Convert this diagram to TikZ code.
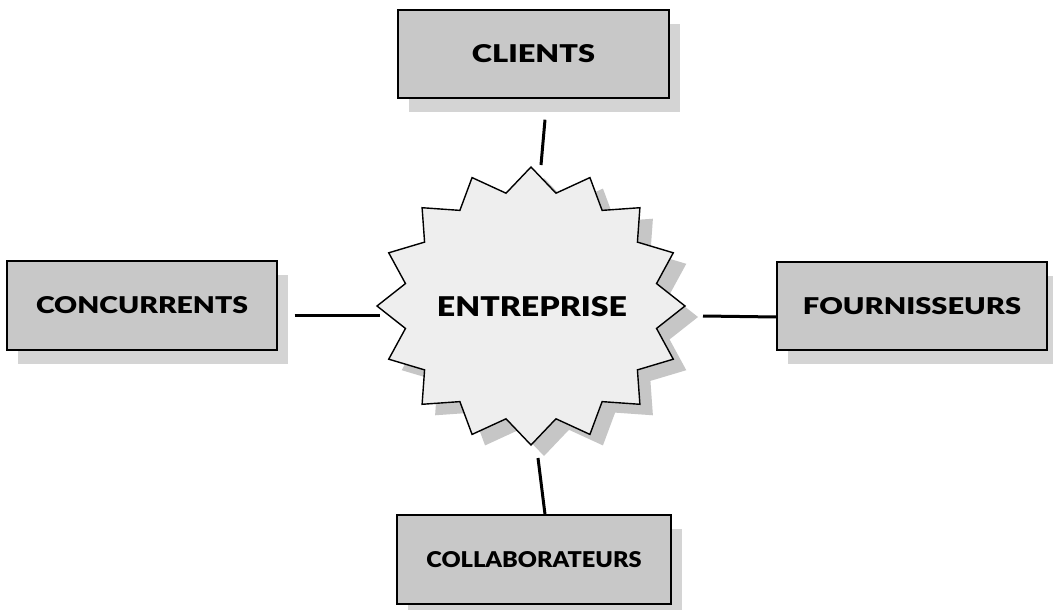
\documentclass[tikz,border=0pt]{standalone}
\usepackage{fontspec}
\setmainfont{Lato}[BoldFont={Lato Black}]
\usetikzlibrary{shadows,calc}
\definecolor{boxfill}{HTML}{C8C8C8}
\definecolor{boxshade}{HTML}{D4D4D4}
\definecolor{starfill}{HTML}{EEEEEE}
\definecolor{starshade}{HTML}{C6C6C6}
\newcommand\fitlbl[3]{\resizebox{#1}{#2}{\bfseries #3}}
\tikzset{
  boxnode/.style={draw=black, line width=1.4pt, fill=boxfill, inner sep=0pt,
    minimum width=271pt, minimum height=88pt,
    drop shadow={shadow xshift=11pt, shadow yshift=-14pt, fill=boxshade, opacity=1}},
  starpath/.style={draw=black, line width=1.4pt, fill=starfill, line join=miter,
    drop shadow={shadow xshift=13pt, shadow yshift=-11pt, fill=starshade, opacity=1}},
  conn/.style={draw=black, line width=3pt},
  lbl/.style={inner sep=0pt}
}
\begin{document}
\begin{tikzpicture}[x=1pt,y=-1pt]
\useasboundingbox (0,0) rectangle (1053,610);
\fill[white] (0,0) rectangle (1053,610);
% central star
\coordinate (c) at (531,306);
\path[starpath, shift={(531,306)}] (0:154 and 139)
  \foreach \i in {0,...,15} { -- ({\i*22.5}:154 and 139) -- ({\i*22.5+11.25}:128 and 115) } -- cycle;
\coordinate (sN) at (531,167);
\coordinate (sS) at (531,445);
\coordinate (sW) at (377,305);
\coordinate (sE) at (685,306);
\node[lbl] (ent) at (532,307) {\fitlbl{190pt}{20pt}{ENTREPRISE}};
% boxes
\node[boxnode] (clients) at (533.5,54) {\fitlbl{123pt}{18pt}{CLIENTS}};
\node[boxnode, minimum width=270pt, minimum height=89pt] (conc) at (142,305.5) {\fitlbl{212pt}{17pt}{CONCURRENTS}};
\node[boxnode, minimum width=270pt] (four) at (912,306) {\fitlbl{218pt}{17pt}{FOURNISSEURS}};
\node[boxnode, minimum width=274pt, minimum height=89pt] (collab) at (534,559.5) {\fitlbl{215pt}{16pt}{COLLABORATEURS}};
% connectors
\draw[conn] ([xshift=11.5pt,yshift=-21pt]clients.south) -- ([xshift=10pt,yshift=2pt]sN);
\draw[conn] ([xshift=7pt,yshift=-13pt]sS) -- ([xshift=11pt]collab.north);
\draw[conn] ([xshift=17pt,yshift=-9.5pt]conc.east) -- ([xshift=3pt,yshift=-10pt]sW);
\draw[conn] ([xshift=18pt,yshift=-10pt]sE) -- ([yshift=-11pt]four.west);
\end{tikzpicture}
\end{document}
